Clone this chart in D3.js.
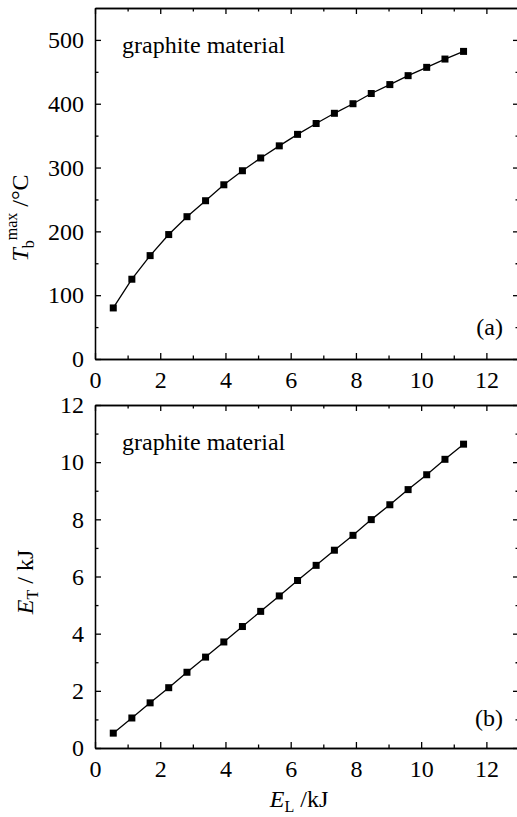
<!DOCTYPE html>
<html>
<head>
<meta charset="utf-8">
<script src="https://cdn.jsdelivr.net/npm/d3@7"></script>
<style>
  body { margin: 0; background: #fff; }
  svg { display: block; }
  svg text { font-family: "Liberation Serif", "Times New Roman", Times, "DejaVu Serif", serif !important; fill: #000; }
</style>
</head>
<body>
<div id="chart"></div>
<script>
// E_L (kJ) for both panels
const laserEnergy = [0.56, 1.13, 1.69, 2.26, 2.82, 3.39, 3.95, 4.52, 5.08, 5.65,
  6.21, 6.78, 7.34, 7.91, 8.47, 9.04, 9.60, 10.17, 10.73, 11.30];
// panel (a): T_b^max (°C)
const maxTemp = [80, 125, 162, 195, 223, 248, 273, 295, 315, 334,
  352, 369, 385, 400, 416, 430, 444, 457, 470, 482];
// panel (b): E_T (kJ)
const transEnergy = [0.52, 1.05, 1.58, 2.11, 2.65, 3.18, 3.71, 4.25, 4.78, 5.32,
  5.86, 6.39, 6.92, 7.44, 7.99, 8.51, 9.04, 9.56, 10.10, 10.63];

const xTicks = [0, 2, 4, 6, 8, 10, 12];
const xMinor = [1, 3, 5, 7, 9, 11];
const aTicks = [0, 100, 200, 300, 400, 500];
const aMinor = [50, 150, 250, 350, 450];
const bTicks = [0, 2, 4, 6, 8, 10, 12];
const bMinor = [1, 3, 5, 7, 9, 11];

const W = 517, H = 817;
const svg = d3.select("#chart").append("svg").attr("width", W).attr("height", H);

const x = d3.scaleLinear().domain([0, 13]).range([95, 519]);

function panel(top, bottom, yDomain, yTicks, yMinor, values, tag, tagY) {
  const y = d3.scaleLinear().domain(yDomain).range([bottom, top]);
  const g = svg.append("g");

  const style = sel => {
    sel.attr("font-family", null);
    sel.selectAll("path, line").attr("stroke", "#000").attr("stroke-width", 1.3);
    sel.selectAll("text").attr("font-size", 24);
  };

  // bottom axis
  g.append("g").attr("transform", `translate(0,${bottom})`)
    .call(d3.axisBottom(x).tickValues(xTicks).tickSize(-6).tickSizeOuter(0).tickPadding(12))
    .call(style);
  g.append("g").attr("transform", `translate(0,${bottom})`)
    .call(d3.axisBottom(x).tickValues(xMinor).tickSize(-3.5).tickSizeOuter(0).tickFormat(""))
    .call(style);
  // top axis
  g.append("g").attr("transform", `translate(0,${top})`)
    .call(d3.axisTop(x).tickValues(xTicks).tickSize(-6).tickSizeOuter(0).tickFormat(""))
    .call(style);
  g.append("g").attr("transform", `translate(0,${top})`)
    .call(d3.axisTop(x).tickValues(xMinor).tickSize(-3.5).tickSizeOuter(0).tickFormat(""))
    .call(style);
  // left axis
  g.append("g").attr("transform", `translate(${x(0)},0)`)
    .call(d3.axisLeft(y).tickValues(yTicks).tickSize(-6).tickSizeOuter(0).tickPadding(11))
    .call(style);
  g.append("g").attr("transform", `translate(${x(0)},0)`)
    .call(d3.axisLeft(y).tickValues(yMinor).tickSize(-3.5).tickSizeOuter(0).tickFormat(""))
    .call(style);
  // right axis
  g.append("g").attr("transform", `translate(${x(13)},0)`)
    .call(d3.axisRight(y).tickValues(yTicks).tickSize(-6).tickSizeOuter(0).tickFormat(""))
    .call(style);
  g.append("g").attr("transform", `translate(${x(13)},0)`)
    .call(d3.axisRight(y).tickValues(yMinor).tickSize(-3.5).tickSizeOuter(0).tickFormat(""))
    .call(style);

  const pts = laserEnergy.map((e, i) => [e, values[i]]);
  g.append("path").datum(pts)
    .attr("fill", "none").attr("stroke", "#000").attr("stroke-width", 1.3)
    .attr("d", d3.line().x(d => x(d[0])).y(d => y(d[1])));
  g.selectAll("rect.pt").data(pts).join("rect")
    .attr("class", "pt")
    .attr("x", d => x(d[0]) - 3.5).attr("y", d => y(d[1]) - 3.5)
    .attr("width", 7).attr("height", 7).attr("fill", "#000");

  g.append("text").attr("x", 122).attr("y", top + 45)
    .attr("font-size", 24).text("graphite material");
  g.append("text").attr("x", 503).attr("y", tagY)
    .attr("text-anchor", "end").attr("font-size", 24).text(tag);
  return g;
}

panel(8, 359, [0, 550], aTicks, aMinor, maxTemp, "(a)", 335);
panel(405, 748, [0, 12], bTicks, bMinor, transEnergy, "(b)", 726);

// y label (a)
const ya = svg.append("text").attr("transform", "translate(28,218) rotate(-90)")
  .attr("text-anchor", "middle").attr("font-size", 24);
ya.append("tspan").attr("font-style", "italic").text("T");
ya.append("tspan").attr("font-size", 16).attr("dy", 6).text("b");
ya.append("tspan").attr("font-size", 16).attr("dy", -17).text("max");
ya.append("tspan").attr("dy", 11).text(" /°C");

// y label (b)
const yb = svg.append("text").attr("transform", "translate(33,582) rotate(-90)")
  .attr("text-anchor", "middle").attr("font-size", 24);
yb.append("tspan").attr("font-style", "italic").text("E");
yb.append("tspan").attr("font-size", 16).attr("dy", 5).text("T");
yb.append("tspan").attr("dy", -5).text(" / kJ");

// x label
const xl = svg.append("text").attr("x", 299).attr("y", 807)
  .attr("text-anchor", "middle").attr("font-size", 24);
xl.append("tspan").attr("font-style", "italic").text("E");
xl.append("tspan").attr("font-size", 16).attr("dy", 5).text("L");
xl.append("tspan").attr("dy", -5).text(" /kJ");
</script>
</body>
</html>
